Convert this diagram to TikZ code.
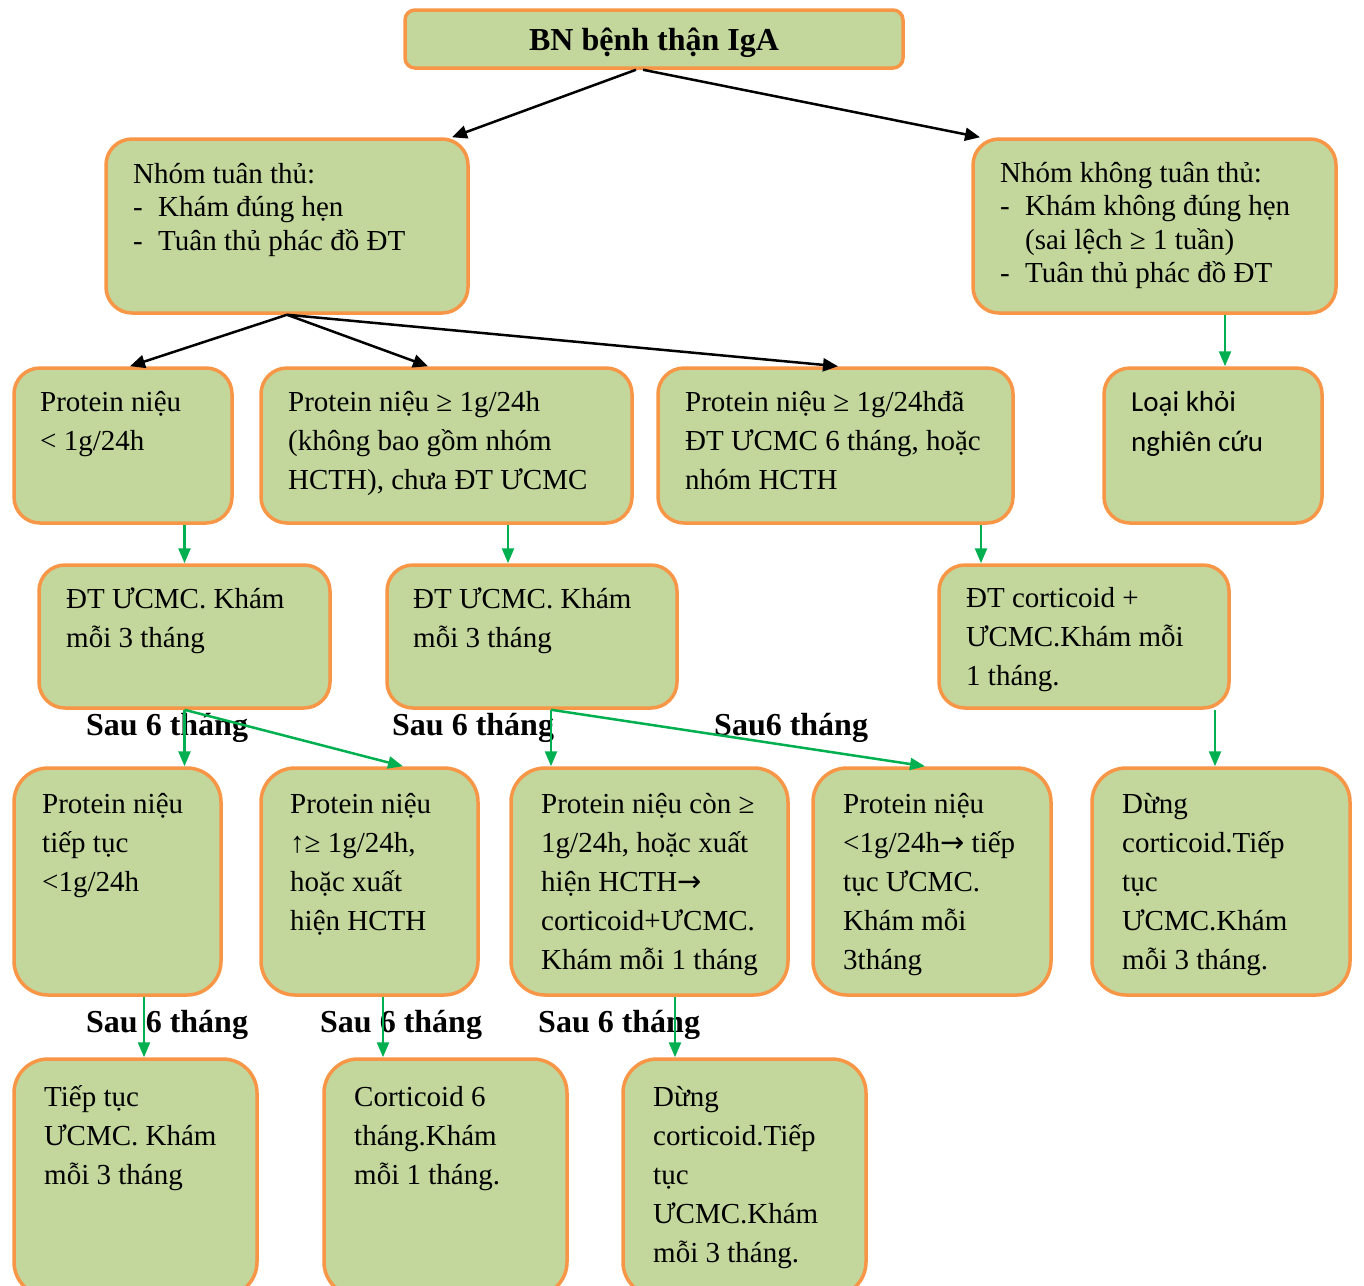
\documentclass[tikz,border=0pt]{standalone}
\usepackage{fontspec}
\setmainfont{Liberation Serif}
\newfontfamily\calfont{Carlito}
\newfontfamily\symfont{DejaVu Sans}
\usetikzlibrary{arrows.meta,fit,calc}
\definecolor{boxfill}{HTML}{C3D69B}
\definecolor{boxline}{HTML}{F79646}
\definecolor{arrgreen}{HTML}{00B050}
\newcommand\dashitem{\makebox[25pt][l]{-}}
\newcommand\rarr{{\symfont →}}
\begin{document}
\begin{tikzpicture}[x=1pt,y=-1pt,
  box/.style={draw=boxline, fill=boxfill, line width=3.5pt, rounded corners=26pt, inner sep=0pt},
  bigbox/.style={box, rounded corners=34pt},
  txt/.style={inner sep=0pt, anchor=north west, align=left, font=\fontsize{29}{39}\selectfont},
  txtg/.style={inner sep=0pt, anchor=north west, align=left, font=\fontsize{29}{33.5}\selectfont},
  txtc/.style={inner sep=0pt, anchor=north west, align=left, font=\calfont\fontsize{29}{40}\selectfont},
  ttl/.style={inner sep=0pt, font=\bfseries\fontsize{32}{38}\selectfont},
  lbl/.style={inner sep=0pt, anchor=base west, font=\bfseries\fontsize{32}{38}\selectfont},
  barrow/.style={draw=black, line width=2.5pt, -{Triangle[length=15pt,width=13pt]}},
  garrow/.style={draw=arrgreen, line width=2.5pt, -{Triangle[length=15pt,width=12pt]}}
]
\fill[white] (0,0) rectangle (1364,1285);
\useasboundingbox (0,0) rectangle (1364,1285);

% boxes
\node[box, rounded corners=10pt, fit={(405,10) (903,68)}] (title) {};
\node[box, fit={(106,139) (468,313)}] (g1) {};
\node[box, fit={(973,139) (1336,313)}] (g2) {};
\node[box, fit={(14,368) (232,523)}] (A) {};
\node[box, fit={(261,368) (632,523)}] (B) {};
\node[box, fit={(658,368) (1013,523)}] (C) {};
\node[box, fit={(1104,368) (1322,523)}] (D) {};
\node[box, fit={(39,565) (330,708)}] (E) {};
\node[box, fit={(387,565) (677,708)}] (F) {};
\node[box, fit={(939,565) (1229,708)}] (G) {};
\node[bigbox, fit={(14,768) (221,995)}] (H) {};
\node[bigbox, fit={(261,768) (478,995)}] (I) {};
\node[bigbox, fit={(511,768) (788,995)}] (J) {};
\node[bigbox, fit={(813,768) (1051,995)}] (K) {};
\node[bigbox, fit={(1092,768) (1350,995)}] (L) {};
\node[bigbox, fit={(14,1059) (257,1296)}] (M) {};
\node[bigbox, fit={(324,1059) (567,1296)}] (N) {};
\node[bigbox, fit={(623,1059) (866,1296)}] (O) {};

% texts
\node[ttl, anchor=base] (tT) at (654,50) {BN bệnh thận IgA};
\node[txtg] (tg1) at (133,183-23.45) {\strut Nhóm tuân thủ:\\\dashitem Khám đúng hẹn\\\dashitem Tuân thủ phác đồ ĐT};
\node[txtg] (tg2) at (1000,182-23.45) {\strut Nhóm không tuân thủ:\\\dashitem Khám không đúng hẹn\\\hspace*{25pt}(sai lệch ≥ 1 tuần)\\\dashitem Tuân thủ phác đồ ĐT};
\node[txt] (tA) at (40,411-27.3) {\strut Protein niệu\\< 1g/24h};
\node[txt] (tB) at (288,411-27.3) {\strut Protein niệu ≥ 1g/24h\\(không bao gồm nhóm\\HCTH), chưa ĐT ƯCMC};
\node[txt] (tC) at (685,411-27.3) {\strut Protein niệu ≥ 1g/24hđã\\ĐT ƯCMC 6 tháng, hoặc\\nhóm HCTH};
\node[txtc] (tD) at (1131,411.5-28) {\strut Loại khỏi\\nghiên cứu};
\node[txt] (tE) at (66,608-27.3) {\strut ĐT ƯCMC. Khám\\mỗi 3 tháng};
\node[txt] (tF) at (413,608-27.3) {\strut ĐT ƯCMC. Khám\\mỗi 3 tháng};
\node[txt] (tG) at (966,607-27.3) {\strut ĐT corticoid +\\ƯCMC.Khám mỗi\\1 tháng.};
\node[txt] (tH) at (42,813-27.3) {\strut Protein niệu\\tiếp tục\\<1g/24h};
\node[txt] (tI) at (290,813-27.3) {\strut Protein niệu\\↑≥ 1g/24h,\\hoặc xuất\\hiện HCTH};
\node[txt] (tJ) at (541,813-27.3) {\strut Protein niệu còn ≥\\1g/24h, hoặc xuất\\hiện HCTH\rarr\\corticoid+ƯCMC.\\Khám mỗi 1 tháng};
\node[txt] (tK) at (843,813-27.3) {\strut Protein niệu\\<1g/24h\rarr{} tiếp\\tục ƯCMC.\\Khám mỗi\\3tháng};
\node[txt] (tL) at (1122,813-27.3) {\strut Dừng\\corticoid.Tiếp\\tục\\ƯCMC.Khám\\mỗi 3 tháng.};
\node[txt] (tM) at (44,1106-27.3) {\strut Tiếp tục\\ƯCMC. Khám\\mỗi 3 tháng};
\node[txt] (tN) at (354,1106-27.3) {\strut Corticoid 6\\tháng.Khám\\mỗi 1 tháng.};
\node[txt] (tO) at (653,1106-27.3) {\strut Dừng\\corticoid.Tiếp\\tục\\ƯCMC.Khám\\mỗi 3 tháng.};

% labels
\node[lbl] (s1) at (86,735) {Sau 6 tháng};
\node[lbl] (s2) at (392,735) {Sau 6 tháng};
\node[lbl] (s3) at (714,735) {Sau6 tháng};
\node[lbl] (s4) at (86,1032) {Sau 6 tháng};
\node[lbl] (s5) at (320,1032) {Sau 6 tháng};
\node[lbl] (s6) at (538,1032) {Sau 6 tháng};

% black arrows
\draw[barrow] ([xshift=-18pt]title.south) -- ([xshift=165pt]g1.north);
\draw[barrow] ([xshift=-11pt]title.south) -- ([xshift=-174.5pt]g2.north);
\draw[barrow] (g1.south) -- ([xshift=7pt]A.north);
\draw[barrow] (g1.south) -- ([xshift=-18.5pt]B.north);
\draw[barrow] (g1.south) -- ([xshift=2.5pt]C.north);

% green arrows
\coordinate (p1) at ([xshift=70.5pt]g2.south);
\draw[garrow] (p1) -- (p1 |- D.north);
\draw[garrow] (E.north |- A.south) -- (E.north);
\coordinate (p2) at ([xshift=61.5pt]B.south);
\draw[garrow] (p2) -- (p2 |- F.north);
\coordinate (p3) at ([xshift=145.5pt]C.south);
\draw[garrow] (p3) -- (p3 |- G.north);
\draw[garrow] (E.south) -- (E.south |- H.north);
\draw[garrow] (E.south) -- ([xshift=33.5pt]I.north);
\coordinate (p4) at ([xshift=19pt]F.south);
\draw[garrow] (p4) -- (p4 |- J.north);
\draw[garrow] (p4) -- ([xshift=-7pt]K.north);
\coordinate (p5) at ([xshift=131pt]G.south);
\draw[garrow] (p5) -- (p5 |- L.north);
\coordinate (p6) at ([xshift=26.5pt]H.south);
\draw[garrow] (p6) -- (p6 |- M.north);
\coordinate (p7) at ([xshift=13.5pt]I.south);
\draw[garrow] (p7) -- (p7 |- N.north);
\coordinate (p8) at ([xshift=25.5pt]J.south);
\draw[garrow] (p8) -- (p8 |- O.north);
\end{tikzpicture}
\end{document}
